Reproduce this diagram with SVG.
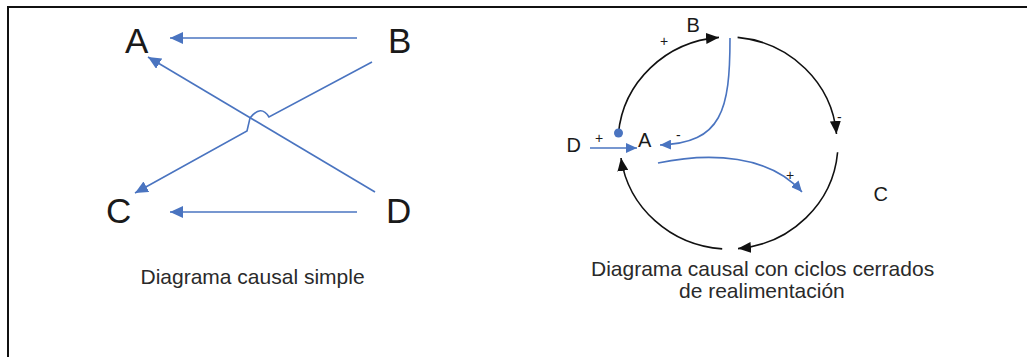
<svg xmlns="http://www.w3.org/2000/svg" width="1027" height="357" viewBox="0 0 1027 357">
<defs>
<style>
.big{font-family:"Liberation Sans",Arial,sans-serif;font-size:35px;fill:#1a1a1a}
.lbl{font-family:"Liberation Sans",Arial,sans-serif;font-size:20px;fill:#1a1a1a}
.sgn{font-family:"Liberation Sans",Arial,sans-serif;font-size:14px;fill:#1a1a1a}
.cap{font-family:"Liberation Sans",Arial,sans-serif;font-size:21px;fill:#2a2a2a}
.blue{fill:none;stroke:#4a74c0;stroke-width:1.6}
.blk{fill:none;stroke:#111;stroke-width:1.6}
</style>
<marker id="bh" markerUnits="userSpaceOnUse" markerWidth="14" markerHeight="12" refX="13" refY="6" orient="auto"><path d="M0,0 L13,6 L0,12 Z" fill="#4a74c0"/></marker>
<marker id="bs" markerUnits="userSpaceOnUse" markerWidth="12" markerHeight="10" refX="11" refY="5" orient="auto"><path d="M0,0 L11,5 L0,10 Z" fill="#4a74c0"/></marker>
<marker id="kh" markerUnits="userSpaceOnUse" markerWidth="14" markerHeight="11" refX="13" refY="5.5" orient="auto"><path d="M0,0 L13,5.5 L0,11 Z" fill="#111"/></marker>
</defs>
<rect x="8" y="7" width="1040" height="380" fill="none" stroke="#111" stroke-width="2"/>
<g id="connectors">
<line class="blue" x1="357" y1="38" x2="170" y2="38" marker-end="url(#bh)"/>
<line class="blue" x1="375" y1="192" x2="148" y2="57" marker-end="url(#bh)"/>
<path class="blue" d="M372,62 L269,117 Q261,104 250,118 L247,131 L135,193" marker-end="url(#bh)"/>
<line class="blue" x1="357" y1="212" x2="170" y2="212" marker-end="url(#bh)"/>
<path class="blk" d="M618.4,133.8 A110,106 0 0 1 719,37.4" marker-end="url(#kh)"/>
<path class="blk" d="M737.6,37.4 A110,106 0 0 1 836.5,134" marker-end="url(#kh)"/>
<path class="blk" d="M837.6,152.2 A110,106 0 0 1 738,248.6" marker-end="url(#kh)"/>
<path class="blk" d="M722.2,248.9 A110,106 0 0 1 621,158" marker-end="url(#kh)"/>
<line class="blue" x1="590" y1="148" x2="637" y2="148" marker-end="url(#bs)"/>
<path class="blue" d="M730,38 C730,110 722,143 660,145" marker-end="url(#bs)"/>
<path class="blue" d="M658,163 C710,152 770,155 802,192" marker-end="url(#bs)"/>
<circle cx="618.5" cy="133" r="4.5" fill="#4a74c0"/>
</g>
<g id="left-A"><text class="big" x="125" y="53">A</text></g>
<g id="left-B"><text class="big" x="388" y="53">B</text></g>
<g id="left-C"><text class="big" x="106" y="223">C</text></g>
<g id="left-D"><text class="big" x="386" y="223">D</text></g>
<g id="left-caption"><text class="cap" x="140.5" y="284">Diagrama causal simple</text></g>
<g id="right-B"><text class="lbl" x="686.5" y="32">B</text></g>
<g id="right-A"><text class="lbl" x="638" y="147">A</text></g>
<g id="right-D"><text class="lbl" x="566.5" y="152">D</text></g>
<g id="right-C"><text class="lbl" x="873.5" y="201">C</text></g>
<g id="signs">
<text class="sgn" x="660" y="46">+</text>
<text class="sgn" x="595" y="143">+</text>
<text class="sgn" x="786" y="180">+</text>
<text class="sgn" x="676" y="140">-</text>
<text class="sgn" x="837" y="122">-</text>
</g>
<g id="right-caption">
<text class="cap" x="591" y="276">Diagrama causal con ciclos cerrados</text>
<text class="cap" x="679" y="298">de realimentación</text>
</g>
</svg>
